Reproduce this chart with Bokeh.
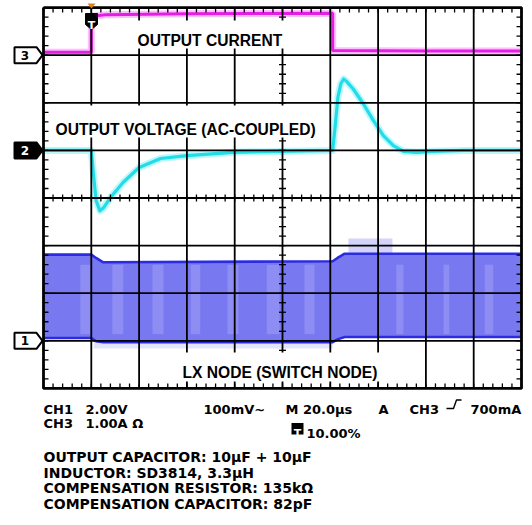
import numpy as np
from bokeh.plotting import figure
from bokeh.models import Label
from bokeh.embed import file_html
from bokeh.resources import INLINE

# ---------------- data (screen divisions: x 0..10, y -4..4) ----------------
# CH3 : output current (magenta)
ch3_x = [0.0, 1.0, 1.0, 1.3, 3.0, 6.05, 6.05, 8.0, 10.0]
ch3_y = [3.06, 3.06, 3.82, 3.85, 3.87, 3.88, 3.10, 3.09, 3.09]

# CH2 : output voltage, AC coupled (cyan)
ch2_x = [0.0, 1.0, 1.04, 1.10, 1.18, 1.26, 1.40, 1.67, 2.0, 2.45, 3.0, 3.97,
         6.05, 6.10, 6.16, 6.22, 6.28, 6.34, 6.48, 6.69, 6.90, 7.11, 7.32,
         7.53, 7.80, 8.15, 8.8, 10.0]
ch2_y = [1.0, 1.0, 0.55, -0.05, -0.27, -0.20, 0.01, 0.33, 0.64, 0.83, 0.89, 0.96,
         1.0, 1.49, 2.12, 2.40, 2.50, 2.45, 2.29, 1.98, 1.63, 1.31, 1.10,
         0.98, 0.96, 0.98, 1.0, 1.0]

# CH1 : LX switch node envelope (blue)
ch1_x = [0.0, 1.0, 1.1, 1.25, 6.05, 6.15, 6.3, 10.0]
ch1_top = [-1.19, -1.19, -1.26, -1.35, -1.33, -1.26, -1.17, -1.17]
ch1_bot = [-2.94, -2.94, -3.01, -3.03, -3.03, -2.97, -2.92, -2.92]
ch1_ring_hi = [6.38, 7.30, -0.85]     # left, right, peak
ch1_ring_lo = [1.05, 6.05, -3.16]     # left, right, trough
stripe_l = [0.77, 1.44, 2.28, 3.08, 3.85, 4.67, 5.46, 7.38, 8.37, 9.23]
stripe_r = [0.98, 1.67, 2.51, 3.28, 4.08, 4.94, 5.67, 7.53, 8.49, 9.41]

ch_levels = [3, 1, -3]          # channel ground markers
ch_names = ["3", "2", "1"]
trace_titles = ["OUTPUT CURRENT", "OUTPUT VOLTAGE (AC-COUPLED)", "LX NODE (SWITCH NODE)"]
row1 = ["CH1", "2.00V", "100mV~", "M 20.0\u00b5s", "A", "CH3", "700mA"]
row2 = ["CH3", "1.00A \u03a9", "10.00%"]
notes = ["OUTPUT CAPACITOR: 10\u00b5F + 10\u00b5F",
         "INDUCTOR: SD3814, 3.3\u00b5H",
         "COMPENSATION RESISTOR: 135k\u03a9",
         "COMPENSATION CAPACITOR: 82pF"]

# ---------------- layout helpers (page px -> divisions) ----------------
X0, SX = 43.0, 47.8
Y0, SY = 197.5, 47.6
def dx(px): return (px - X0) / SX
def dy(py): return (Y0 - py) / SY

W, H = 526, 515
p = figure(width=W, height=H, x_range=(dx(0), dx(W)), y_range=(dy(H), dy(0)),
           output_backend="svg", toolbar_location=None, x_axis_type=None, y_axis_type=None,
           min_border=0, outline_line_color=None, background_fill_color="white",
           border_fill_color="white")
p.grid.visible = False

FONT = "DejaVu Sans"
TFONT = "Liberation Sans"

# ---- CH1 band ----
p.varea(x=ch1_x, y1=ch1_bot, y2=ch1_top, fill_color="#7878f0", fill_alpha=1.0)
p.quad(left=[ch1_ring_hi[0]], right=[ch1_ring_hi[1]], bottom=[-1.2], top=[ch1_ring_hi[2]],
       fill_color="#b0b0f6", fill_alpha=0.55, line_color=None)
p.quad(left=[ch1_ring_lo[0]], right=[ch1_ring_lo[1]], bottom=[ch1_ring_lo[2]], top=[-3.0],
       fill_color="#b0b0f6", fill_alpha=0.35, line_color=None)
p.quad(left=stripe_l, right=stripe_r, bottom=[-2.86] * len(stripe_l), top=[-1.40] * len(stripe_l),
       fill_color="#b4b4f8", fill_alpha=0.35, line_color=None)
p.line(ch1_x, ch1_top, line_color="#2b2be3", line_width=2.6)
p.line(ch1_x, ch1_bot, line_color="#2b2be3", line_width=2.6)

# ---- CH3 magenta ----
p.line(ch3_x, ch3_y, line_color="#ff70ff", line_width=7, line_alpha=0.45)
p.line(ch3_x, ch3_y, line_color="#e41ee4", line_width=3)

# ---- CH2 cyan ----
p.line(ch2_x, ch2_y, line_color="#80f2fa", line_width=7, line_alpha=0.55, line_join="round")
p.line(ch2_x, ch2_y, line_color="#22dce8", line_width=3.2, line_join="round")

# ---- graticule ----
p.multi_line(xs=[[i, i] for i in range(1, 10)], ys=[[-4, 4]] * 9, line_color="black", line_width=1.8)
p.multi_line(xs=[[0, 10]] * 7, ys=[[j, j] for j in range(-3, 4)], line_color="black", line_width=1.8)
tx = np.arange(0, 10.001, 0.2)
ty = np.arange(-4, 4.001, 0.2)
lx, ly = 5.0 / SX, 5.0 / SY
cx, cy = 3.5 / SX, 3.5 / SY
p.segment(x0=tx, y0=4.0, x1=tx, y1=4.0 - ly, line_color="black", line_width=1.3)
p.segment(x0=tx, y0=-4.0, x1=tx, y1=-4.0 + ly, line_color="black", line_width=1.3)
p.segment(x0=0.0, y0=ty, x1=lx, y1=ty, line_color="black", line_width=1.3)
p.segment(x0=10.0, y0=ty, x1=10.0 - lx, y1=ty, line_color="black", line_width=1.3)
p.segment(x0=tx, y0=-cy, x1=tx, y1=cy, line_color="black", line_width=1.3)
p.segment(x0=5.0 - cx, y0=ty, x1=5.0 + cx, y1=ty, line_color="black", line_width=1.3)
p.multi_line(xs=[[0, 10, 10, 0, 0]], ys=[[4, 4, -4, -4, 4]], line_color="black", line_width=2.8)

# ---- white label boxes + titles ----
boxes = [(105, 305, 20, 48), (49, 327, 105, 137), (172, 390, 352, 381)]
p.quad(left=[dx(b[0]) for b in boxes], right=[dx(b[1]) for b in boxes],
       top=[dy(b[2]) for b in boxes], bottom=[dy(b[3]) for b in boxes],
       fill_color="white", line_color=None)
title_pos = [(137, 40.0), (55, 128.5), (182, 372.3)]
for t, (x, y) in zip(trace_titles, title_pos):
    p.add_layout(Label(x=dx(x), y=dy(y), text=t, text_font=TFONT, text_font_style="bold",
                       text_font_size="15.6px", text_color="black", text_baseline="alphabetic"))

# ---- channel markers ----
for lvl, name in zip(ch_levels, ch_names):
    h = 8.0 / SY
    xs = [dx(14), dx(36), dx(42), dx(36), dx(14)]
    ys = [lvl + h, lvl + h, lvl, lvl - h, lvl - h]
    dark = name == "2"
    p.patch(xs, ys, fill_color="black" if dark else "white", line_color="black", line_width=2)
    p.add_layout(Label(x=dx(24.5), y=lvl, text=name, text_font=FONT, text_font_style="bold",
                       text_font_size="12px", text_color="white" if dark else "black",
                       text_align="center", text_baseline="middle"))

# trigger position marker
p.patch([dx(85), dx(97), dx(97), dx(91), dx(85)], [dy(13), dy(13), dy(24), dy(29), dy(24)],
        fill_color="black", line_color="black")
p.add_layout(Label(x=dx(91), y=dy(24.5), text="T", text_font=FONT, text_font_style="bold",
                   text_font_size="11px", text_color="white", text_align="center",
                   text_baseline="alphabetic"))
p.patch([dx(87), dx(95), dx(91)], [dy(3), dy(3), dy(8)], fill_color="#d9821e", line_color=None)

# ---- readout text ----
r1_x = [43, 85, 203, 285, 378, 409, 470]
for t, x in zip(row1, r1_x):
    p.add_layout(Label(x=dx(x), y=dy(409), text=t, text_font=FONT, text_font_style="bold",
                       text_font_size="13px", text_color="black", text_baseline="alphabetic"))
r2_x = [43, 85, 306]
r2_y = [423, 423, 433]
for t, x, y in zip(row2, r2_x, r2_y):
    p.add_layout(Label(x=dx(x), y=dy(y), text=t, text_font=FONT, text_font_style="bold",
                       text_font_size="13px", text_color="black", text_baseline="alphabetic"))
# rising-edge trigger symbol
p.line([dx(446), dx(453), dx(456), dx(461)], [dy(408), dy(408), dy(399.5), dy(399.5)],
       line_color="black", line_width=1.4)
# T box in readout
p.quad(left=[dx(291)], right=[dx(303)], top=[dy(422.5)], bottom=[dy(434)], fill_color="black",
       line_color=None)
p.add_layout(Label(x=dx(297), y=dy(432.5), text="T", text_font=FONT, text_font_style="bold",
                   text_font_size="11px", text_color="white", text_align="center",
                   text_baseline="alphabetic"))

note_y = [456.5, 472, 487.5, 503]
for t, y in zip(notes, note_y):
    p.add_layout(Label(x=dx(43), y=dy(y), text=t, text_font=FONT, text_font_style="bold",
                       text_font_size="14px", text_color="black", text_baseline="alphabetic"))

open("out.html", "w").write(file_html(p, INLINE))
